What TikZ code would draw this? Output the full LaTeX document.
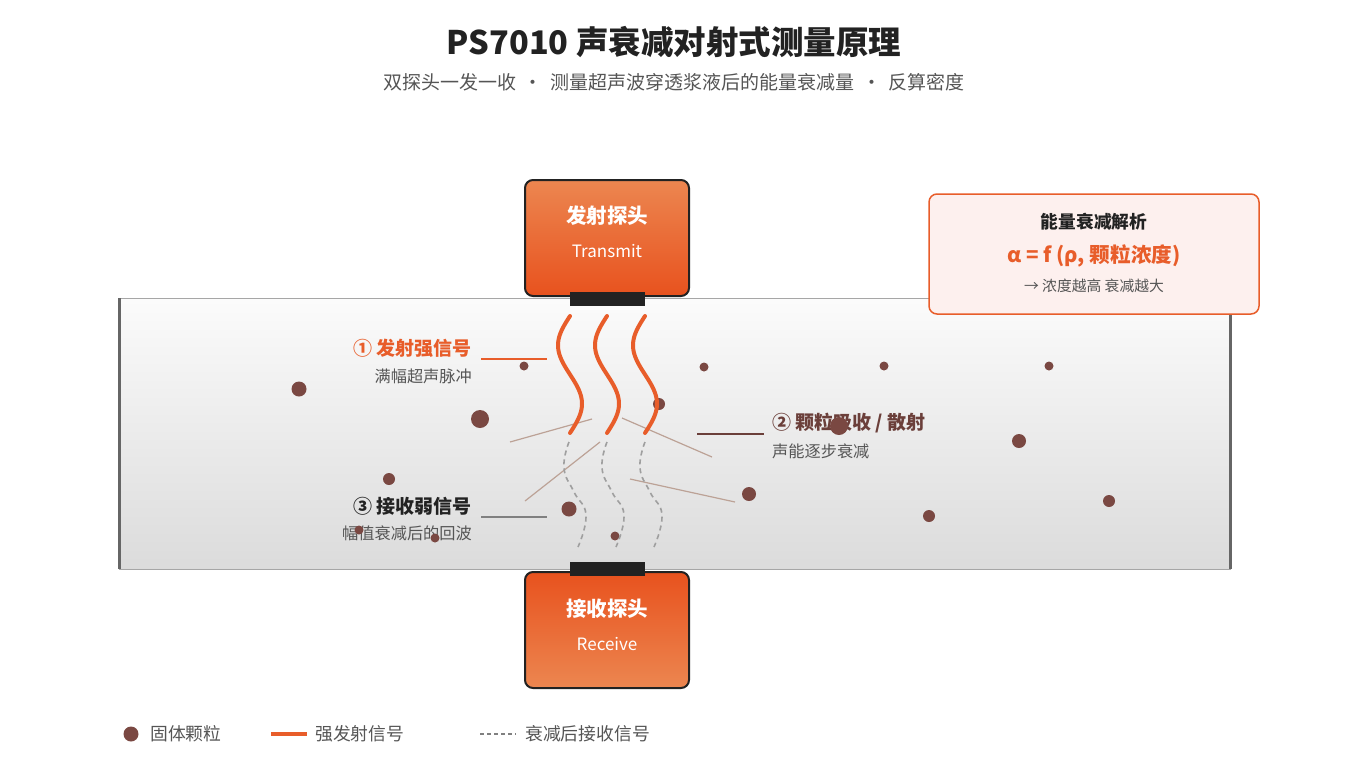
\documentclass[tikz,border=0pt]{standalone}
\usepackage{fontspec}
\setmainfont{Noto Sans CJK SC}
\usetikzlibrary{arrows.meta,calc}
\definecolor{accent}{RGB}{232,93,42}
\definecolor{probetop}{RGB}{236,134,80}
\definecolor{probebot}{RGB}{232,82,30}
\definecolor{particle}{RGB}{122,72,66}
\definecolor{scatter}{RGB}{188,162,150}
\definecolor{ink}{RGB}{34,34,34}
\definecolor{muted}{RGB}{85,85,85}
\definecolor{brownink}{RGB}{107,63,58}
\definecolor{infofill}{RGB}{253,240,238}

\begin{document}
\begin{tikzpicture}[x=1pt,y=-1pt,
  probe/.style={draw=ink,line width=2pt,rounded corners=8pt,minimum width=164pt,minimum height=116pt},
  bar/.style={fill=ink,minimum width=75pt,minimum height=14pt,inner sep=0pt},
  sigwave/.style={accent,line width=4pt,line cap=round},
  rxwave/.style={gray!75,line width=1.6pt,dash pattern=on 5pt off 4pt},
  scatterline/.style={scatter,line width=1.2pt},
  lbl/.style={inner sep=0pt,font=\fontsize{19}{22}\selectfont\bfseries},
  sublbl/.style={inner sep=0pt,text=muted,font=\fontsize{16.2}{19}\selectfont},
  legtext/.style={anchor=west,inner sep=0pt,font=\fontsize{17.8}{20}\selectfont,text=muted}]
  \fill[white] (0,0) rectangle (1349,764);
  \useasboundingbox (0,0) rectangle (1349,764);

  % title
  \node[font=\fontsize{32.5}{36}\selectfont\bfseries,text=ink] (title) at (674,42) {PS7010 声衰减对射式测量原理};
  \node[font=\fontsize{19}{22}\selectfont,text=muted] (subtitle) at (674,82)
    {双探头一发一收\hspace{7.5pt}·\hspace{7.5pt}测量超声波穿透浆液后的能量衰减量\hspace{7.5pt}·\hspace{7.5pt}反算密度};

  % pipe with slurry
  \shade[top color=gray!3,bottom color=gray!28] (119,298) rectangle (1230,569);
  \draw[gray!70,line width=1pt] (119,298) rectangle (1230,569);
  \draw[gray!80!black,line width=3pt] (119,298) -- (119,569);
  \draw[gray!80!black,line width=3pt] (1230,298) -- (1230,569);

  % labels
  \node[lbl,anchor=east,text=accent] (s1) at (472,348) {① 发射强信号};
  \node[sublbl,anchor=east] (s1sub) at (472,376) {满幅超声脉冲};
  \node[lbl,anchor=west,text=brownink] (s2) at (772,423) {② 颗粒吸收 / 散射};
  \node[sublbl,anchor=west] (s2sub) at (772,451) {声能逐步衰减};
  \node[lbl,anchor=east,text=ink] (s3) at (472,506) {③ 接收弱信号};
  \node[sublbl,anchor=east] (s3sub) at (472,533) {幅值衰减后的回波};
  \coordinate (l1a) at (481,359); \coordinate (l1b) at (547,359);
  \coordinate (l2a) at (697,434); \coordinate (l2b) at (764,434);
  \coordinate (l3a) at (481,517); \coordinate (l3b) at (547,517);
  \draw[accent,line width=2pt] (l1a) -- (l1b);
  \draw[brownink,line width=2pt] (l2a) -- (l2b);
  \draw[gray,line width=1.5pt] (l3a) -- (l3b);

  % particles
  \foreach \px/\py/\pr in {299/389/7.5,480/419/9,389/479/6,524/366/4.5,704/367/4.5,884/366/4.5,
      1049/366/4.5,659/404/6,839/426/9,1019/441/7,749/494/7,929/516/6,1109/501/6,
      569/509/7.5,615/536/4.5,435/538/4.5,359/530/4.5}
    \fill[particle] (\px,\py) circle[radius=\pr];

  % scattering
  \draw[scatterline] (510,442) -- (592,419);
  \draw[scatterline] (525,501) -- (600,442);
  \draw[scatterline] (622,418) -- (712,457);
  \draw[scatterline] (630,479) -- (735,502);

  % strong transmitted signal
  \draw[sigwave] plot[domain=0:117,samples=50,smooth] ({570-12*sin(3.0769*\x)},{316+\x});
  \draw[sigwave] plot[domain=0:117,samples=50,smooth] ({607-12*sin(3.0769*\x)},{316+\x});
  \draw[sigwave] plot[domain=0:117,samples=50,smooth] ({645-12*sin(3.0769*\x)},{316+\x});
  % attenuated received signal
  \draw[rxwave] plot[smooth,tension=0.8] coordinates {(569,442) (564,468) (574,492) (586,515) (578,547)};
  \draw[rxwave] plot[smooth,tension=0.8] coordinates {(607,442) (602,468) (612,492) (624,515) (616,547)};
  \draw[rxwave] plot[smooth,tension=0.8] coordinates {(645,442) (640,468) (650,492) (662,515) (654,547)};

  % probes
  \node[probe,top color=probetop,bottom color=probebot] (tx) at (607,238) {};
  \node[text=white,font=\fontsize{20.5}{24}\selectfont\bfseries] (txname) at (607,216) {发射探头};
  \node[text=white,font=\fontsize{17}{20}\selectfont] (txsub) at (607,251) {Transmit};
  \node[bar] (txbar) at (607.5,299) {};
  \node[probe,top color=probebot,bottom color=probetop] (rx) at (607,630) {};
  \node[text=white,font=\fontsize{20.5}{24}\selectfont\bfseries] (rxname) at (607,609) {接收探头};
  \node[text=white,font=\fontsize{17}{20}\selectfont] (rxsub) at (607,644) {Receive};
  \node[bar] (rxbar) at (607.5,569) {};

  % analysis box
  \node[draw=accent,line width=1.5pt,fill=infofill,rounded corners=8pt,minimum width=330pt,minimum height=120pt] (info) at (1094,254) {};
  \node[font=\fontsize{17.7}{20}\selectfont\bfseries,text=ink] (infotitle) at (1094,222) {能量衰减解析};
  \node[font=\fontsize{20.6}{24}\selectfont\bfseries,text=accent] (infoeq) at (1094,256) {α = f (ρ, 颗粒浓度)};
  \node[font=\fontsize{14.8}{17}\selectfont,text=muted] (infonote) at (1094,286) {→ 浓度越高 衰减越大};

  % legend
  \fill[particle] (131,734) circle[radius=7.5];
  \node[legtext] (legp) at (150,734) {固体颗粒};
  \draw[accent,line width=4pt] (271,734) -- (307,734);
  \node[legtext] (legs) at (315,734) {强发射信号};
  \draw[gray,line width=1.5pt,dash pattern=on 4pt off 3pt] (480,734) -- (516,734);
  \node[legtext] (legr) at (525,734) {衰减后接收信号};
\end{tikzpicture}
\end{document}
